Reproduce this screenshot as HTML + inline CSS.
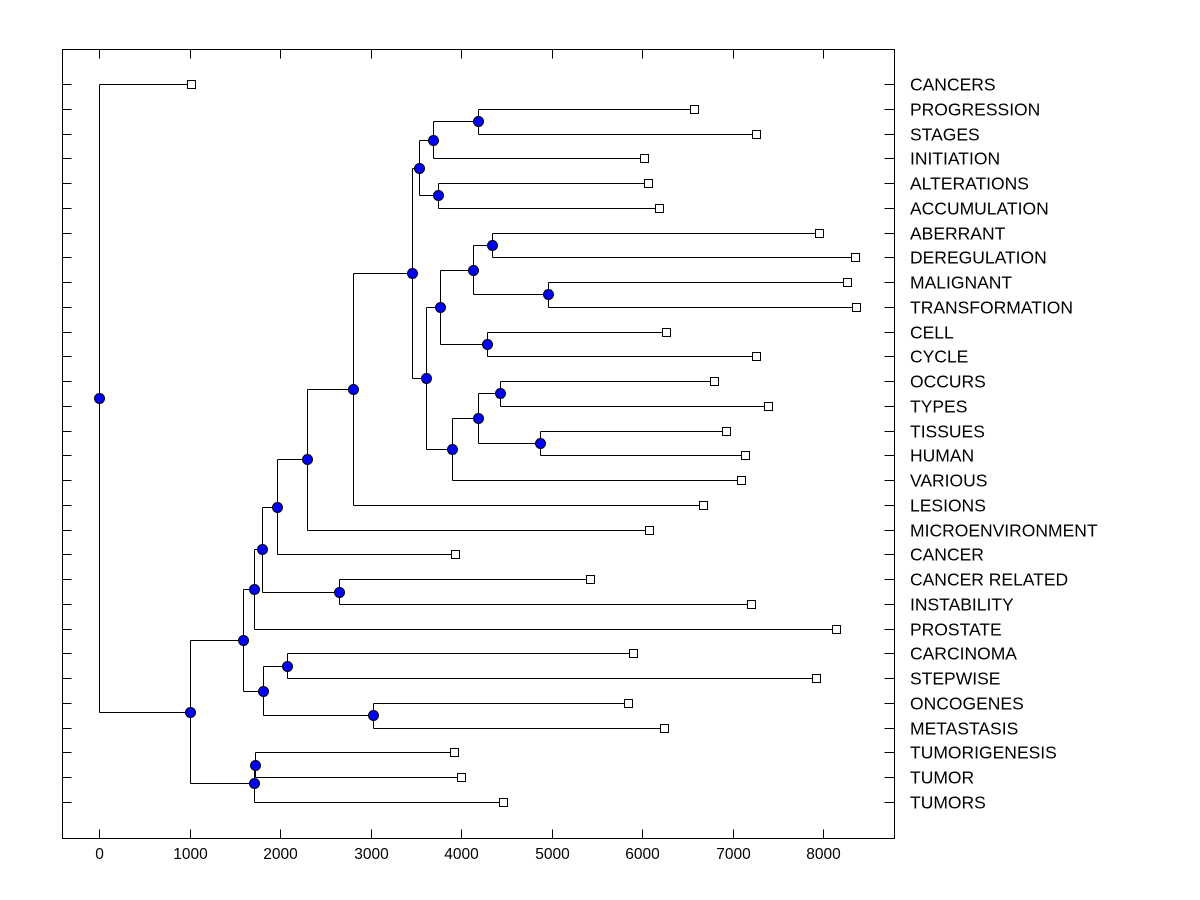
<!DOCTYPE html>
<html><head><meta charset="utf-8"><style>
html,body{margin:0;padding:0;background:#fff;}
svg{display:block;font-family:"Liberation Sans",Arial,sans-serif;}
</style></head><body>
<svg id="chart" width="1200" height="900" viewBox="0 0 1200 900">
<rect x="62.5" y="49.5" width="832" height="789" fill="#fff" stroke="#000" stroke-width="1"/>
<g id="g"></g>
</svg>
<script>
const leafLabels = ["CANCERS","PROGRESSION","STAGES","INITIATION","ALTERATIONS","ACCUMULATION","ABERRANT","DEREGULATION","MALIGNANT","TRANSFORMATION","CELL","CYCLE","OCCURS","TYPES","TISSUES","HUMAN","VARIOUS","LESIONS","MICROENVIRONMENT","CANCER","CANCER RELATED","INSTABILITY","PROSTATE","CARCINOMA","STEPWISE","ONCOGENES","METASTASIS","TUMORIGENESIS","TUMOR","TUMORS"];
const leafHeights = [1017,6575,7260,6022,6066,6188,7956,8354,8265,8365,6265,7260,6796,7392,6928,7138,7094,6674,6077,3934,5425,7204,8144,5901,7923,5845,6243,3923,4000,4464];
const mergeLeft  = [1,30,4,31,6,8,34,10,36,12,14,39,41,38,33,44,45,46,20,47,49,23,25,51,50,27,55,54,0];
const mergeRight = [2,3,5,32,7,9,35,11,37,13,15,40,16,42,43,17,18,19,21,48,22,24,26,52,53,28,29,56,57];
const mergeHeight= [4188,3691,3746,3536,4343,4961,4133,4287,3768,4431,4873,4188,3901,3613,3459,2807,2298,1967,2652,1801,1713,2077,3028,1812,1591,1720,1710,1005,0];
const xTicks = [0,1000,2000,3000,4000,5000,6000,7000,8000];

const L=62.5,R=894.5,T=49.5,B=838.5;
const xs = v => 99 + v*0.0905;
const ys = i => 84 + i*(802-84)/29;
const g=document.getElementById('g');
const NS='http://www.w3.org/2000/svg';
function mk(tag,attrs){const e=document.createElementNS(NS,tag);for(const k in attrs)e.setAttribute(k,attrs[k]);g.appendChild(e);return e;}

xTicks.forEach(t=>{
  const x=Math.round(xs(t))+0.5;
  let e=mk('line',{x1:x,y1:B,x2:x,y2:B-9,stroke:'#000'});
  
  
  e=mk('line',{x1:x,y1:T,x2:x,y2:T+9,stroke:'#000'});
  
  
  e=mk('text',{x:x,y:859,'text-anchor':'middle','font-size':'15.5',fill:'#000'});
  e.textContent=t;
  
  
});
leafLabels.forEach((lab,i)=>{
  const y=Math.round(ys(i))+0.5;
  let e=mk('line',{x1:L,y1:y,x2:L+9,y2:y,stroke:'#000'});
  
  
  e=mk('line',{x1:R,y1:y,x2:R-10,y2:y,stroke:'#000'});
  
  
  e=mk('text',{x:910,y:y+6,'font-size':'17.5',fill:'#000'});
  e.textContent=lab;
  
  
});

const n=leafLabels.length;
const posX=[],posY=[];
leafHeights.forEach((h,i)=>{posX[i]=xs(h);posY[i]=ys(i);});
mergeHeight.forEach((h,k)=>{
  const id=n+k,a=mergeLeft[k],b=mergeRight[k];
  posX[id]=xs(h);posY[id]=(posY[a]+posY[b])/2;
});
mergeHeight.forEach((h,k)=>{
  const id=n+k,a=mergeLeft[k],b=mergeRight[k];
  const x=Math.round(posX[id])+0.5;
  const ya=Math.round(posY[a])+0.5,yb=Math.round(posY[b])+0.5;
  let e=mk('line',{x1:x,y1:ya,x2:x,y2:yb,stroke:'#000'});
  
  
  [a,b].forEach(c=>{
    const yc=Math.round(posY[c])+0.5;
    const el=mk('line',{x1:x,y1:yc,x2:Math.round(posX[c])+0.5,y2:yc,stroke:'#000'});
    
    
  });
});
leafHeights.forEach((h,i)=>{
  const e=mk('rect',{x:Math.round(posX[i])-4+0.5,y:Math.round(posY[i])-4+0.5,width:8,height:8,fill:'#fff',stroke:'#000'});
  
  
});
mergeHeight.forEach((h,k)=>{
  const id=n+k;
  const e=mk('circle',{cx:Math.round(posX[id])+0.5,cy:Math.round(posY[id])+0.5,r:5,fill:'#0000ff',stroke:'#000'});
  
  
});
</script>
</body></html>
